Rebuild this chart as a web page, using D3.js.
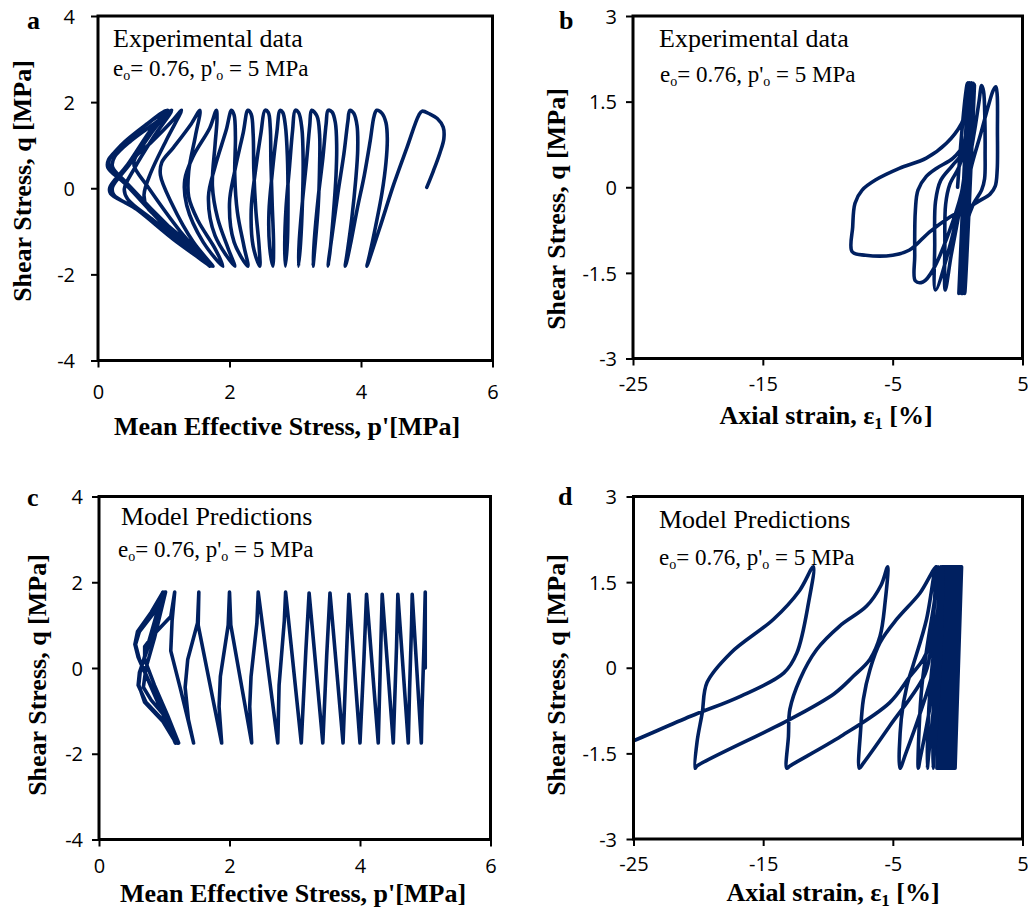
<!DOCTYPE html>
<html><head><meta charset="utf-8">
<script src="https://cdn.jsdelivr.net/npm/d3@7"></script>
<style>body{margin:0;background:#fff} svg{display:block}</style>
</head><body>
<svg id="c" width="1028" height="912"></svg>
<script>
// ---------- tick labels ----------
const pTicks = [0, 2, 4, 6];
const qTicksP = [-4, -2, 0, 2, 4];
const eTicks = [-25, -15, -5, 5];
const qTicksE = [-3, -1.5, 0, 1.5, 3];

// ---------- (a) experimental p'-q path ----------
const expPQ = [
 [5.00,0.02],[5.10,0.40],[5.20,0.82],[5.26,1.15],[5.25,1.42],[5.16,1.62],[5.05,1.72],[4.93,1.79],
 [4.88,1.70],[4.70,0.95],[4.50,0.10],[4.30,-0.85],[4.15,-1.55],[4.09,-1.81],
 [4.13,-1.55],[4.22,-0.90],[4.32,-0.10],[4.38,0.60],[4.40,1.15],[4.38,1.52],[4.32,1.74],[4.24,1.81],
 [4.20,1.68],[4.14,1.10],[4.05,0.30],[3.94,-0.50],[3.84,-1.30],[3.78,-1.72],[3.76,-1.81],
 [3.79,-1.50],[3.86,-0.70],[3.92,0.20],[3.95,0.90],[3.94,1.45],[3.89,1.74],[3.83,1.81],
 [3.80,1.55],[3.74,0.80],[3.65,-0.10],[3.56,-1.10],[3.51,-1.65],[3.50,-1.81],
 [3.53,-1.45],[3.58,-0.60],[3.62,0.30],[3.63,1.00],[3.61,1.52],[3.56,1.77],[3.50,1.81],
 [3.47,1.50],[3.42,0.70],[3.35,-0.20],[3.29,-1.20],[3.27,-1.81],
 [3.30,-1.35],[3.35,-0.40],[3.37,0.50],[3.37,1.25],[3.33,1.68],[3.25,1.81],
 [3.22,1.45],[3.17,0.60],[3.11,-0.30],[3.06,-1.25],[3.05,-1.81],
 [3.08,-1.30],[3.11,-0.30],[3.12,0.65],[3.10,1.40],[3.05,1.76],[3.00,1.81],
 [2.96,1.35],[2.91,0.45],[2.86,-0.45],[2.84,-1.30],[2.85,-1.81],
 [2.88,-1.25],[2.89,-0.25],[2.88,0.75],[2.85,1.45],[2.81,1.76],[2.77,1.81],
 [2.72,1.30],[2.65,0.35],[2.60,-0.55],[2.61,-1.35],[2.66,-1.81],
 [2.67,-1.30],[2.65,-0.40],[2.63,0.60],[2.62,1.40],[2.59,1.76],[2.54,1.81],
 [2.48,1.30],[2.39,0.35],[2.33,-0.50],[2.36,-1.35],[2.46,-1.81],
 [2.45,-1.35],[2.40,-0.50],[2.37,0.40],[2.36,1.25],[2.33,1.72],[2.28,1.81],
 [2.21,1.30],[2.08,0.40],[2.00,-0.35],[2.07,-1.25],[2.28,-1.81],
 [2.22,-1.35],[2.12,-0.55],[2.08,0.30],[2.09,1.20],[2.07,1.70],[2.03,1.81],
 [1.95,1.35],[1.78,0.50],[1.68,-0.20],[1.78,-1.10],[2.08,-1.81],
 [1.98,-1.40],[1.82,-0.70],[1.74,0.05],[1.78,1.00],[1.81,1.60],[1.80,1.81],
 [1.70,1.40],[1.45,0.75],[1.32,0.20],[1.35,-0.40],[1.60,-1.25],[1.90,-1.81],
 [1.78,-1.40],[1.52,-0.75],[1.38,-0.20],[1.38,0.40],[1.48,1.20],[1.55,1.81],
 [1.42,1.50],[1.15,0.95],[0.97,0.60],[0.95,0.30],[1.12,-0.35],[1.45,-1.25],[1.75,-1.81],
 [1.55,-1.50],[1.05,-0.85],[0.75,-0.45],[0.70,-0.15],[0.80,0.35],[1.05,1.15],[1.27,1.81],
 [1.12,1.55],[0.80,1.05],[0.57,0.72],[0.55,0.52],[0.75,0.05],[1.25,-1.00],[1.72,-1.81],
 [1.40,-1.40],[0.85,-0.75],[0.45,-0.25],[0.40,-0.02],[0.55,0.45],[0.85,1.20],[1.12,1.81],
 [0.90,1.55],[0.50,1.10],[0.25,0.72],[0.22,0.50],[0.45,0.10],[1.15,-1.00],[1.72,-1.81],
 [1.30,-1.35],[0.60,-0.50],[0.24,-0.15],[0.22,0.02],[0.48,0.55],[0.82,1.30],[1.06,1.81],
 [0.80,1.55],[0.40,1.05],[0.16,0.66],[0.15,0.48],[0.40,0.12],[1.10,-1.00],[1.74,-1.81],
 [1.20,-1.25],[0.55,-0.45],[0.19,-0.12],[0.18,0.02],[0.45,0.55],[0.80,1.35],[1.04,1.81],
 [0.75,1.50],[0.35,1.00],[0.17,0.65],[0.18,0.45],[0.45,0.10],[1.10,-1.00],[1.70,-1.81]
];

// ---------- (b) experimental strain-q path ----------
const expEQ = [
 [0.00,0.00],[0.30,0.90],[0.60,1.60],[0.75,1.82],
 [0.10,-1.86],[0.80,1.83],[0.20,-1.85],[0.95,1.82],[0.30,-1.86],[1.05,1.83],
 [0.40,-1.86],[1.20,1.82],[0.50,-1.85],[1.30,1.80],[0.55,-1.86],[0.90,1.83],
 [0.30,-1.86],[0.42,-0.90],[0.62,-0.10],[0.95,0.50],[1.35,1.05],[1.65,1.50],[1.85,1.78],
 [2.00,1.68],[2.10,1.20],[2.12,0.60],[2.08,0.15],[1.85,-0.05],[1.20,-0.30],[0.75,-0.60],[0.45,-1.30],[0.30,-1.86],
 [0.45,-1.00],[0.70,-0.10],[1.05,0.35],[1.80,0.95],[2.40,1.45],[2.75,1.70],[2.95,1.76],
 [3.05,1.62],[3.07,1.00],[3.05,0.30],[2.90,0.02],[2.50,-0.12],[1.60,-0.25],[1.00,-0.35],[0.60,-0.90],[0.35,-1.86],
 [0.80,1.82],
 [0.55,0.30],[0.30,-0.20],[-0.50,-1.20],[-0.95,-1.80],[-0.98,-1.00],[-0.92,-0.30],[-0.60,0.05],[0.10,0.35],[0.55,0.70],[0.80,1.30],[0.85,1.82],
 [0.60,0.40],[0.35,-0.05],[-0.80,-1.20],[-1.70,-1.80],[-1.76,-1.00],[-1.70,-0.25],[-1.30,0.12],[-0.40,0.38],[0.40,0.62],[0.75,1.20],[0.85,1.82],
 [0.60,0.50],[0.30,-0.10],[-1.90,-1.45],[-2.67,-1.66],[-3.25,-1.64],[-3.30,-1.20],[-3.25,-0.40],[-3.05,-0.05],[-2.41,0.19],[-1.64,0.33],[-0.35,0.51],[0.45,0.75],[0.80,1.30],[0.87,1.82],
 [0.83,1.47],[0.31,1.12],[-0.86,0.77],[-2.41,0.51],[-4.49,0.33],[-6.30,0.13],[-7.35,-0.05],[-7.90,-0.28],[-8.08,-0.70],[-8.12,-1.13],
 [-7.09,-1.19],[-5.00,-1.19],[-3.70,-1.10],[-2.15,-0.78],[-0.59,-0.52],[0.70,-0.34],[0.90,0.20]
];

// ---------- (c) model p'-q path ----------
const modPQ = [
 [5.00,0.00],[5.00,1.77],[4.98,0.50],[4.95,-1.00],[4.94,-1.75],
 [4.80,1.72],[4.79,1.00],[4.76,-0.50],[4.74,-1.75],
 [4.58,1.72],[4.56,0.50],[4.51,-1.75],
 [4.34,1.72],[4.31,0.00],[4.28,-1.75],
 [4.10,1.72],[4.06,0.20],[4.00,-1.75],
 [3.83,1.72],[3.79,0.20],[3.74,-1.75],
 [3.54,1.75],[3.49,0.30],[3.43,-1.75],
 [3.22,1.75],[3.17,0.40],[3.10,-1.75],
 [2.86,1.77],[2.84,1.10],[2.76,-0.40],[2.74,-1.75],
 [2.44,1.77],[2.42,1.05],[2.33,-0.20],[2.31,-0.90],[2.34,-1.75],
 [2.02,1.00],[2.00,1.77],[1.98,1.00],[1.86,-0.20],[1.84,-0.90],[1.88,-1.75],
 [1.52,1.00],[1.53,1.77],[1.51,1.05],[1.36,0.20],[1.32,-0.45],[1.37,-1.20],[1.45,-1.75],
 [1.25,-0.50],[1.10,0.40],[1.12,1.10],[1.16,1.77],
 [1.10,1.20],[0.85,0.80],[0.70,0.50],[0.70,0.20],[0.85,-0.40],[1.05,-1.10],[1.22,-1.75],
 [1.05,-1.20],[0.80,-0.75],[0.68,-0.45],[0.72,0.00],[0.85,0.70],[1.02,1.77],
 [0.85,1.30],[0.62,0.85],[0.56,0.55],[0.62,0.20],[0.82,-0.50],[1.05,-1.20],[1.20,-1.75],
 [1.00,-1.25],[0.72,-0.80],[0.60,-0.40],[0.62,-0.10],[0.78,0.60],[1.00,1.77],
 [0.82,1.30],[0.60,0.85],[0.55,0.55],[0.60,0.25],[0.80,-0.45],[1.02,-1.15],[1.18,-1.75],
 [0.98,-1.25],[0.70,-0.80],[0.61,-0.40],[0.63,-0.10],[0.76,0.60],[0.98,1.77],
 [0.80,1.30],[0.59,0.85],[0.55,0.55],[0.60,0.25],[0.80,-0.45],[1.00,-1.15],[1.17,-1.75]
];

// ---------- (d) model strain-q: dense band then growing loops ----------
const modEQband = [
 [0.00,0.00],[0.30,1.77],
 [-0.20,-1.76],[0.25,1.77],[-0.30,-1.76],[0.15,1.77],[-0.40,-1.76],[0.05,1.77],
 [-0.50,-1.76],[-0.05,1.77],[-0.60,-1.76],[-0.15,1.77],[-0.70,-1.76],[-0.25,1.77],
 [-0.80,-1.76],[-0.35,1.77],[-0.90,-1.76],[-0.45,1.77],[-1.00,-1.76],[-0.55,1.77],
 [-1.10,-1.76],[-0.65,1.77],[-1.20,-1.76],[-0.75,1.77],[-1.30,-1.76],[-0.85,1.77],
 [-1.40,-1.76],[-0.95,1.77],[-1.50,-1.76],[-1.05,1.77],[-1.60,-1.76],[-1.15,1.77]
];
const modEQloops = [
 [-1.15,1.77],[-1.25,0.60],[-1.50,-0.60],[-1.80,-1.50],[-1.90,-1.76],
 [-1.86,-1.00],[-1.65,-0.20],[-1.40,0.60],[-1.25,1.30],[-1.20,1.77],
 [-1.28,0.90],[-1.50,0.10],[-1.90,-0.80],[-2.25,-1.55],[-2.34,-1.76],
 [-2.30,-1.10],[-2.10,-0.30],[-1.75,0.50],[-1.45,1.20],[-1.30,1.77],
 [-1.40,0.90],[-1.65,0.05],[-2.30,-0.90],[-2.90,-1.60],[-3.04,-1.76],
 [-2.98,-1.10],[-2.75,-0.30],[-2.30,0.45],[-1.80,1.15],[-1.45,1.77],
 [-1.55,0.90],[-1.80,0.05],[-2.90,-0.80],[-4.00,-1.50],[-4.45,-1.76],
 [-4.35,-0.90],[-3.90,-0.30],[-3.43,0.05],[-2.40,0.85],[-1.70,1.77],
 [-1.80,1.10],[-2.00,0.50],[-2.50,-0.10],[-5.24,-1.02],[-7.30,-1.68],[-7.58,-1.76],
 [-7.48,-1.08],[-7.27,-0.55],[-6.76,-0.03],[-5.99,0.44],[-4.70,0.85],[-2.90,1.31],[-1.62,1.77],
 [-1.80,1.14],[-2.00,0.55],[-2.65,0.15],[-3.68,-0.15],[-5.24,-0.61],[-9.00,-1.20],[-12.94,-1.72],[-13.18,-1.76],
 [-13.05,-1.20],[-12.94,-0.73],[-12.16,-0.20],[-10.87,0.32],[-9.10,0.73],[-7.02,1.08],[-5.90,1.45],[-5.40,1.77],
 [-5.60,1.14],[-5.99,0.55],[-6.76,0.15],[-8.05,-0.15],[-9.50,-0.45],[-12.90,-0.90],[-20.10,-1.72],[-20.25,-1.76],
 [-20.10,-1.30],[-19.70,-0.79],[-19.33,-0.26],[-17.50,0.26],[-14.20,0.85],[-12.20,1.35],[-11.13,1.77],
 [-11.50,1.14],[-12.40,0.26],[-13.40,-0.09],[-16.76,-0.50],[-20.60,-0.85],[-25.00,-1.28],[-26.00,-1.37]
];

const LINE = "#002060";
const cr = d3.curveCatmullRom.alpha(0.5);
const lin = d3.curveLinear;

const panels = [
 {key:"a", box:[98,16,492.5,360.5], xd:[0,6], yd:[-4,4], xt:pTicks, yt:qTicksP,
  series:[{d:expPQ, c:cr}], letter:[27,29], t1:"Experimental data", t1p:[113,47], t2p:[113,76],
  xlab:"Mean Effective Stress, p'[MPa]", strain:false, xlabp:[287,435], ylabp:[22,181], yLabR:75, xLabB:399},
 {key:"b", box:[633,16,1022.5,358.5], xd:[-25,5], yd:[-3,3], xt:eTicks, yt:qTicksE,
  series:[{d:expEQ, c:cr}], letter:[559,29], t1:"Experimental data", t1p:[659,47], t2p:[660,82],
  xlab:"Axial strain, ε", strain:true, xlabp:[826,424], ylabp:[556,209], yLabR:617, xLabB:391},
 {key:"c", box:[99,496.5,490.5,839.5], xd:[0,6], yd:[-4,4], xt:pTicks, yt:qTicksP,
  series:[{d:modPQ, c:lin}], letter:[27,506], t1:"Model Predictions", t1p:[121,525], t2p:[118,557],
  xlab:"Mean Effective Stress, p'[MPa]", strain:false, xlabp:[293,902], ylabp:[37,675], yLabR:83, xLabB:873},
 {key:"d", box:[633.5,496.5,1022.5,839], xd:[-25,5], yd:[-3,3], xt:eTicks, yt:qTicksE,
  series:[{d:modEQband, c:lin},{d:modEQloops, c:cr}], letter:[558,505], t1:"Model Predictions", t1p:[659,528], t2p:[659,565],
  xlab:"Axial strain, ε", strain:true, xlabp:[833,901], ylabp:[556,675], yLabR:617, xLabB:871}
];

const svg = d3.select("#c");
const defs = svg.append("defs");
const SERIF = "'Liberation Serif','Times New Roman',serif";
const SANS = "'Open Sans','Noto Sans',sans-serif";

panels.forEach(P => {
  const [x0,y0,x1,y1] = P.box;
  const x = d3.scaleLinear().domain(P.xd).range([x0,x1]);
  const y = d3.scaleLinear().domain(P.yd).range([y1,y0]);
  defs.append("clipPath").attr("id","clip"+P.key).append("rect")
    .attr("x",x0).attr("y",y0).attr("width",x1-x0).attr("height",y1-y0);

  const gx = svg.append("g").attr("transform",`translate(0,${y1})`)
    .call(d3.axisBottom(x).tickValues(P.xt).tickSize(7).tickSizeOuter(0).tickFormat(d=>String(d)));
  const gy = svg.append("g").attr("transform",`translate(${x0},0)`)
    .call(d3.axisLeft(y).tickValues(P.yt).tickSize(7).tickSizeOuter(0).tickFormat(d=>String(d)));
  [gx,gy].forEach(g=>{
    g.select(".domain").remove();
    g.selectAll(".tick line").attr("stroke","#000").attr("stroke-width",2);
    g.selectAll(".tick text").attr("fill","#000").style("font-family",SANS).style("font-size","20px");
  });
  gx.selectAll(".tick text").attr("dy",null).attr("y",P.xLabB - y1);
  gy.selectAll(".tick text").attr("dy","0.36em").attr("x",P.yLabR - x0);

  const gl = svg.append("g").attr("clip-path",`url(#clip${P.key})`);
  P.series.forEach(s=>{
    gl.append("path").datum(s.d)
      .attr("d", d3.line().x(d=>x(d[0])).y(d=>y(d[1])).curve(s.c))
      .attr("fill","none").attr("stroke",LINE).attr("stroke-width",3.6)
      .attr("stroke-linejoin","round").attr("stroke-linecap","round");
  });

  svg.append("rect").attr("x",x0).attr("y",y0).attr("width",x1-x0).attr("height",y1-y0)
    .attr("fill","none").attr("stroke","#000").attr("stroke-width",3);

  svg.append("text").attr("x",P.letter[0]).attr("y",P.letter[1]).text(P.key)
    .style("font-family",SERIF).style("font-weight","bold").style("font-size","26px");

  svg.append("text").attr("x",P.t1p[0]).attr("y",P.t1p[1]).text(P.t1)
    .style("font-family",SERIF).style("font-size","26px");
  const t2 = svg.append("text").attr("x",P.t2p[0]).attr("y",P.t2p[1])
    .style("font-family",SERIF).style("font-size","23px");
  t2.append("tspan").text("e");
  t2.append("tspan").attr("dy",4).style("font-size","14px").text("o");
  t2.append("tspan").attr("dy",-4).text("= 0.76, p'");
  t2.append("tspan").attr("dy",4).style("font-size","14px").text("o");
  t2.append("tspan").attr("dy",-4).text(" = 5 MPa");

  const xt = svg.append("text").attr("x",P.xlabp[0]).attr("y",P.xlabp[1]).attr("text-anchor","middle")
    .style("font-family",SERIF).style("font-weight","bold").style("font-size","26px");
  if (P.strain) {
    xt.append("tspan").text(P.xlab);
    xt.append("tspan").attr("dy",5).style("font-size","17px").text("1");
    xt.append("tspan").attr("dy",-5).text(" [%]");
  } else {
    xt.text(P.xlab);
  }
  svg.append("text").attr("transform",`translate(${P.ylabp[0]},${P.ylabp[1]}) rotate(-90)`)
    .attr("text-anchor","middle").attr("dominant-baseline","central")
    .style("font-family",SERIF).style("font-weight","bold").style("font-size","26px")
    .text("Shear Stress, q [MPa]");
});
</script>
</body></html>
